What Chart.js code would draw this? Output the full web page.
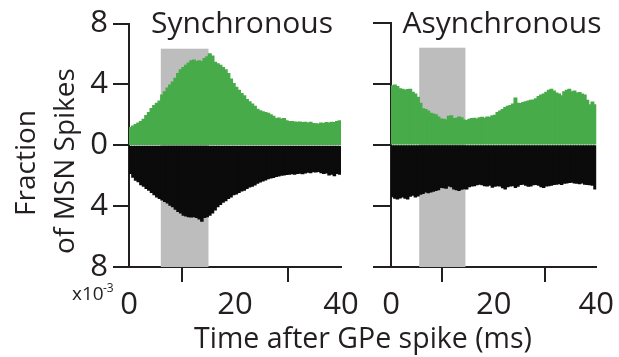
<!DOCTYPE html>
<html>
<head>
<meta charset="utf-8">
<script src="https://cdn.jsdelivr.net/npm/chart.js@4/dist/chart.umd.min.js"></script>
<style>
html,body{margin:0;padding:0;background:#fff;}
#wrap{position:relative;width:619px;height:357px;overflow:hidden;background:#fff;}
#wrap canvas{position:absolute;left:0;top:0;}
</style>
</head>
<body>
<div id="wrap">
<canvas id="cSync" width="619" height="357"></canvas>
<canvas id="cAsync" width="619" height="357"></canvas>
</div>
<script>
// ---- data (fraction of MSN spikes, x10^-3), 0.5 ms bins from 0 to 40 ms ----
const binWidthMs = 0.5;
const timeBins = Array.from({length: 80}, (_, i) => i * binWidthMs + binWidthMs / 2); // bin centres (ms)

const syncUpper = [
  1.15,1.25,1.35,1.45,1.55,1.7,1.95,2.15,2.4,2.6,
  2.75,2.9,3.3,3.5,3.75,3.95,4.15,4.4,4.7,4.95,
  5.1,5.25,5.4,5.55,5.6,5.5,5.55,5.5,5.7,5.8,
  6.0,5.85,5.45,5.35,5.25,5.1,4.95,4.7,4.35,4.05,
  3.8,3.6,3.4,3.25,3.0,2.85,2.7,2.55,2.35,2.25,
  2.2,2.15,2.1,2.0,1.9,1.75,1.78,1.72,1.75,1.6,
  1.55,1.55,1.52,1.5,1.52,1.48,1.5,1.45,1.5,1.42,
  1.4,1.38,1.45,1.42,1.48,1.45,1.5,1.48,1.55,1.6
];
const syncLower = [
  1.85,2.1,2.3,2.4,2.6,2.7,2.85,2.95,3.1,3.25,
  3.4,3.5,3.6,3.7,3.8,3.95,4.05,4.2,4.35,4.45,
  4.6,4.65,4.7,4.72,4.7,4.75,4.85,5.0,4.75,4.7,
  4.6,4.45,4.25,4.05,3.9,3.75,3.65,3.5,3.4,3.25,
  3.2,3.1,3.0,2.95,2.85,2.75,2.7,2.62,2.5,2.42,
  2.35,2.28,2.2,2.15,2.12,2.05,2.02,1.98,1.95,1.92,
  1.9,1.88,1.9,1.85,1.84,1.88,1.82,1.78,1.8,1.74,
  1.76,1.72,1.8,1.85,1.82,1.95,1.9,2.0,1.85,1.9
];
const asyncUpper = [
  3.85,3.9,3.8,3.65,3.62,3.55,3.6,3.62,3.42,3.3,
  3.1,2.7,2.35,2.3,2.2,2.05,2.0,1.95,1.8,1.68,
  1.65,1.6,1.85,1.88,1.7,1.72,1.8,1.75,1.6,1.58,
  1.65,1.7,1.72,1.68,1.75,1.78,1.72,1.8,1.78,1.88,
  1.92,2.1,2.2,2.3,2.42,2.5,2.55,2.65,3.05,2.7,
  2.68,2.75,2.8,2.85,2.9,2.92,3.0,3.15,3.25,3.3,
  3.42,3.55,3.62,3.5,3.38,3.3,3.2,3.45,3.55,3.62,
  3.45,3.5,3.38,3.4,3.3,3.25,2.9,2.6,2.78,2.6
];
const asyncLower = [
  3.4,3.5,3.55,3.48,3.42,3.5,3.55,3.38,3.3,3.42,
  3.35,3.25,3.2,3.1,3.15,3.1,3.05,3.0,2.95,2.8,
  2.82,2.85,2.7,2.75,2.9,2.95,3.0,2.92,2.88,2.9,
  2.75,2.7,2.68,2.62,2.58,2.62,2.68,2.7,2.65,2.78,
  2.72,2.68,2.7,2.82,2.9,2.75,2.7,2.68,2.8,2.72,
  2.6,2.58,2.65,2.72,2.7,2.62,2.6,2.65,2.75,2.8,
  2.7,2.68,2.65,2.6,2.58,2.55,2.6,2.52,2.5,2.48,
  2.45,2.5,2.52,2.55,2.5,2.58,2.6,2.62,2.65,2.9
];
// shaded window [start ms, end ms, top value]
const syncWindow = [6, 15, 6.35];
const asyncWindow = [5.5, 14.5, 6.35];
const xTicks = [0, 20, 40];
const yTicks = [-8, -4, 0, 4, 8];

// ---- styles ----
const GREEN = '#48ab4a';
const BLACK = '#0b0b0b';
const GREY = '#bdbdbd';
const INK = '#231f20';
const FAMILY = '"Open Sans", "Noto Sans", sans-serif';

const shadePlugin = {
  id: 'shade',
  beforeDatasetsDraw(chart, args, opts) {
    const {ctx, scales: {x, y}} = chart;
    const w = opts.window;
    const x0 = x.getPixelForValue(w[0]), x1 = x.getPixelForValue(w[1]);
    const y0 = y.getPixelForValue(w[2]), y1 = y.getPixelForValue(y.min);
    ctx.save();
    ctx.fillStyle = GREY;
    ctx.fillRect(x0, y0, x1 - x0, y1 - y0);
    ctx.restore();
  }
};

const textPlugin = {
  id: 'texts',
  afterDraw(chart, args, opts) {
    const ctx = chart.ctx;
    (opts.items || []).forEach(t => {
      ctx.save();
      ctx.fillStyle = INK;
      ctx.font = t.size + 'px ' + FAMILY;
      ctx.textBaseline = 'alphabetic';
      ctx.textAlign = t.align || 'center';
      ctx.translate(t.x, t.y);
      if (t.rot) ctx.rotate(t.rot);
      ctx.fillText(t.text, 0, 0);
      ctx.restore();
    });
  }
};

function makeChart(id, upper, lower, win, cfg) {
  return new Chart(document.getElementById(id), {
    type: 'bar',
    data: {
      datasets: [
        {data: timeBins.map((t, i) => ({x: t, y: upper[i]})), backgroundColor: GREEN,
         borderWidth: 0, barPercentage: 1, categoryPercentage: 1, grouped: false, inflateAmount: 0.7},
        {data: timeBins.map((t, i) => ({x: t, y: -lower[i]})), backgroundColor: BLACK,
         borderWidth: 0, barPercentage: 1, categoryPercentage: 1, grouped: false, inflateAmount: 0.45}
      ]
    },
    options: {
      responsive: false, animation: false, devicePixelRatio: 1,
      layout: {autoPadding: false, padding: {left: cfg.padLeft, right: cfg.padRight, top: 22.5, bottom: 0}},
      plugins: {
        legend: {display: false}, tooltip: {enabled: false},
        shade: {window: win},
        texts: {items: cfg.texts}
      },
      scales: {
        x: {
          type: 'linear', min: 0, max: 40, offset: false,
          afterBuildTicks: s => { s.ticks = xTicks.map(v => ({value: v})); },
          ticks: {color: INK, font: {family: FAMILY, size: 31}, padding: 5, maxRotation: 0},
          grid: {drawOnChartArea: false, drawTicks: true, tickLength: 15, lineWidth: 2, color: INK},
          border: {display: true, color: INK, width: 2},
          afterFit: s => { s.height = 90; }
        },
        y: {
          type: 'linear', min: -8, max: 8,
          afterBuildTicks: s => { s.ticks = yTicks.map(v => ({value: v})); },
          ticks: {display: cfg.showY, color: INK, font: {family: FAMILY, size: 31}, padding: 5,
                  callback: v => String(Math.abs(v))},
          grid: {drawOnChartArea: false, drawTicks: true, tickLength: cfg.yTick, lineWidth: 2, color: INK},
          border: {display: true, color: INK, width: 2},
          afterFit: s => { s.width = cfg.yWidth; }
        }
      }
    },
    plugins: [shadePlugin, textPlugin]
  });
}

function draw() {
  makeChart('cSync', syncUpper, syncLower, syncWindow, {
    padLeft: 0, padRight: 278, yWidth: 129, yTick: 16, showY: true,
    texts: [
      {text: 'Synchronous', x: 242, y: 33, size: 30},
      {text: 'Fraction', x: 35, y: 163, size: 28, rot: -Math.PI / 2},
      {text: 'of MSN Spikes', x: 74, y: 161, size: 28, rot: -Math.PI / 2},
      {text: 'x10', x: 72, y: 300, size: 19, align: 'left'},
      {text: '-3', x: 103, y: 291.5, size: 12, align: 'left'},
      {text: 'Time after GPe spike (ms)', x: 363, y: 348, size: 28.5}
    ]
  });
  makeChart('cAsync', asyncUpper, asyncLower, asyncWindow, {
    padLeft: 360, padRight: 17, yWidth: 31, yTick: 18, showY: false,
    texts: [
      {text: 'Asynchronous', x: 502, y: 33, size: 30}
    ]
  });
}

const fontsReady = document.fonts && document.fonts.load
  ? Promise.all([document.fonts.load('30px "Open Sans"')]).catch(() => {})
  : Promise.resolve();
let done = false;
fontsReady.then(() => { if (!done) { done = true; draw(); } });
setTimeout(() => { if (!done) { done = true; draw(); } }, 1500);
</script>
</body>
</html>
